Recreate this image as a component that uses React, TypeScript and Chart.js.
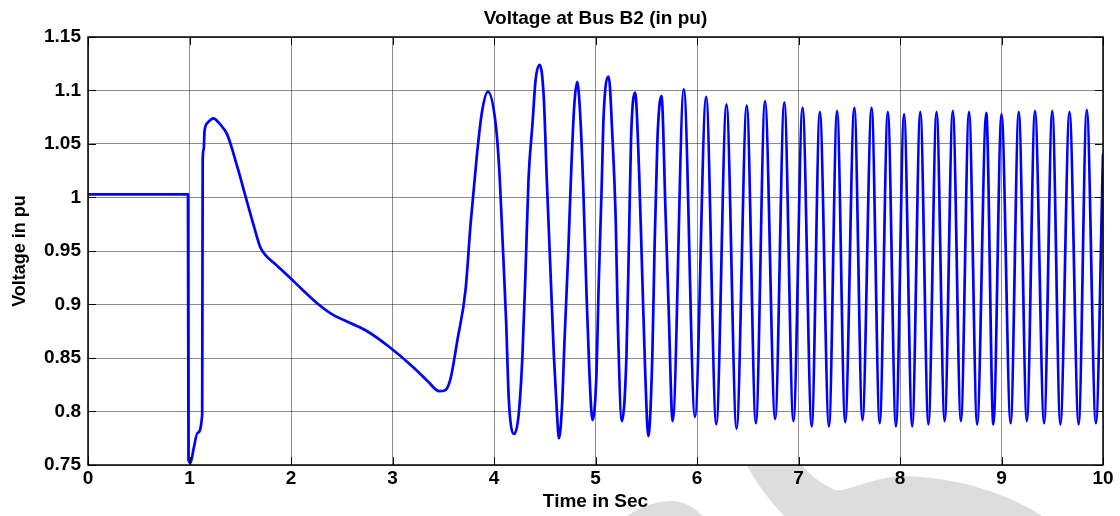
import React, { useEffect, useRef } from "react";
import { Chart, registerables } from "chart.js";

Chart.register(...registerables);

// ---- data ----
const timeSec = [
  0, 0.985, 0.99, 1.01, 1.04, 1.08, 1.125, 1.13, 1.14, 1.148, 1.18, 1.233, 1.305, 1.371,
  1.47, 1.552, 1.635, 1.7, 1.76, 1.83, 1.99, 2.1, 2.26, 2.42, 2.6, 2.75, 2.96, 3.21,
  3.35, 3.46, 3.52, 3.57, 3.64, 3.72, 3.77, 3.83, 3.88, 3.94,
  4.015, 4.05, 4.09, 4.12, 4.146, 4.2,
  4.245, 4.28, 4.31, 4.34, 4.38, 4.41, 4.45,
  4.49, 4.52, 4.56, 4.59, 4.62, 4.64,
  4.67, 4.695, 4.73, 4.76, 4.79, 4.82,
  4.85, 4.88, 4.91, 4.94, 4.97,
  5.01, 5.03, 5.06, 5.08, 5.13,
  5.165, 5.2, 5.22, 5.26,
  5.305, 5.33, 5.35, 5.39,
  5.43, 5.46, 5.49, 5.52,
  5.56, 5.58, 5.61, 5.65,
  5.69, 5.72, 5.76,
  5.87, 5.98, 6.09, 6.19, 6.29, 6.39, 6.49, 6.58, 6.67, 6.77, 6.86, 6.95,
  7.04, 7.13, 7.21, 7.3, 7.38, 7.46, 7.55, 7.63, 7.72, 7.8, 7.88, 7.96,
  8.04, 8.12, 8.2, 8.28, 8.36, 8.44, 8.52, 8.6, 8.68, 8.76, 8.85, 8.92,
  9.0, 9.09, 9.17, 9.25, 9.33, 9.42, 9.5, 9.58, 9.67, 9.76, 9.84, 9.93, 10.0,
];

const voltagePu = [
  1.003, 1.003, 0.755, 0.752, 0.765, 0.78, 0.797, 1.035, 1.045, 1.062, 1.07, 1.074, 1.068, 1.059,
  1.029, 1.001, 0.973, 0.953, 0.945, 0.939, 0.925, 0.915, 0.901, 0.89, 0.882, 0.875, 0.861, 0.841,
  0.828, 0.819, 0.82, 0.83, 0.867, 0.914, 0.976, 1.038, 1.079, 1.099,
  1.07, 1.029, 0.948, 0.883, 0.811, 0.779,
  0.799, 0.852, 0.929, 1.017, 1.07, 1.11, 1.124,
  1.094, 1.017, 0.923, 0.852, 0.799, 0.775,
  0.805, 0.867, 0.945, 1.023, 1.085, 1.108,
  1.076, 1.007, 0.914, 0.836, 0.792,
  0.836, 0.914, 1.007, 1.076, 1.113,
  1.06, 0.976, 0.883, 0.791,
  0.852, 0.961, 1.054, 1.098,
  1.023, 0.929, 0.836, 0.777,
  0.852, 0.945, 1.054, 1.095,
  0.986, 0.898, 0.791,
  1.101, 0.795, 1.094, 0.788, 1.087, 0.784, 1.086, 0.789, 1.09, 0.793, 1.089, 0.791,
  1.084, 0.786, 1.08, 0.786, 1.081, 0.79, 1.084, 0.792, 1.084, 0.789, 1.08, 0.786,
  1.078, 0.786, 1.08, 0.788, 1.08, 0.791, 1.081, 0.791, 1.08, 0.788, 1.079, 0.788,
  1.078, 0.789, 1.08, 0.791, 1.081, 0.789, 1.081, 0.788, 1.08, 0.788, 1.082, 0.789, 1.04,
];

const xTickValues = [0, 1, 2, 3, 4, 5, 6, 7, 8, 9, 10];
const yTickValues = [0.75, 0.8, 0.85, 0.9, 0.95, 1, 1.05, 1.1, 1.15];

const chartTitle = "Voltage at Bus B2 (in pu)";
const xAxisTitle = "Time in Sec";
const yAxisTitle = "Voltage in pu";

const FONT = "'Liberation Sans', Arial, Helvetica, sans-serif";

const backgroundPlugin = {
  id: "bgWatermark",
  beforeDraw(chart: any) {
    const { ctx, chartArea } = chart;
    ctx.save();
    ctx.fillStyle = "#ffffff";
    ctx.fillRect(0, 0, chart.width, chart.height);
    // faint watermark swoosh below the axes
    ctx.beginPath();
    ctx.rect(0, chartArea.bottom, chart.width, chart.height - chartArea.bottom);
    ctx.clip();
    ctx.fillStyle = "#dddddd";
    ctx.beginPath();
    ctx.moveTo(744, 460);
    ctx.quadraticCurveTo(760, 492, 788, 520);
    ctx.lineTo(1048, 520);
    ctx.bezierCurveTo(1020, 500, 970, 478, 905, 476);
    ctx.bezierCurveTo(870, 477, 850, 492, 835, 490);
    ctx.quadraticCurveTo(812, 480, 798, 460);
    ctx.closePath();
    ctx.fill();
    ctx.beginPath();
    ctx.moveTo(622, 520);
    ctx.bezierCurveTo(640, 505, 660, 500, 675, 501);
    ctx.bezierCurveTo(688, 503, 698, 510, 706, 520);
    ctx.closePath();
    ctx.fill();
    ctx.restore();
  },
};

const framePlugin = {
  id: "matlabFrame",
  afterDraw(chart: any) {
    const { ctx, chartArea } = chart;
    const { left, right, top, bottom } = chartArea;
    const xs = chart.scales.x;
    const ys = chart.scales.y;
    ctx.save();
    ctx.strokeStyle = "#000000";
    ctx.lineWidth = 1;
    const tl = 8;
    ctx.beginPath();
    for (const v of xTickValues) {
      const px = Math.round(xs.getPixelForValue(v)) + 0.5;
      ctx.moveTo(px, bottom);
      ctx.lineTo(px, bottom - tl);
      ctx.moveTo(px, top);
      ctx.lineTo(px, top + tl);
    }
    for (const v of yTickValues) {
      const py = Math.round(ys.getPixelForValue(v)) + 0.5;
      ctx.moveTo(left, py);
      ctx.lineTo(left + tl, py);
      ctx.moveTo(right, py);
      ctx.lineTo(right - tl, py);
    }
    ctx.stroke();
    ctx.lineWidth = 1.5;
    ctx.strokeRect(left, top, right - left, bottom - top);
    ctx.restore();
  },
};

export default function App() {
  const canvasRef = useRef<HTMLCanvasElement | null>(null);

  useEffect(() => {
    const canvas = canvasRef.current;
    if (!canvas) return;
    const points = timeSec.map((t, i) => ({ x: t, y: voltagePu[i] }));
    const chart = new Chart(canvas, {
      type: "line",
      data: {
        datasets: [
          {
            label: "Voltage",
            data: points,
            borderColor: "#0000ff",
            borderWidth: 2.7,
            pointRadius: 0,
            cubicInterpolationMode: "monotone",
            fill: false,
            borderJoinStyle: "round",
            borderCapStyle: "round",
            xAxisID: "x",
            yAxisID: "y",
          },
        ],
      },
      options: {
        animation: false,
        responsive: false,
        devicePixelRatio: 1,
        layout: { padding: { left: 0, right: 17, top: 0, bottom: 0 } },
        plugins: {
          legend: { display: false },
          tooltip: { enabled: false },
          title: { display: false },
        },
        scales: {
          xTop: {
            type: "linear",
            position: "top",
            min: 0,
            max: 10,
            afterFit: (scale: any) => {
              scale.height = 37;
            },
            ticks: { display: false },
            grid: { display: false, drawTicks: false },
            border: { display: false },
            title: {
              display: true,
              text: chartTitle,
              color: "#000000",
              font: { family: FONT, size: 19, weight: "bold" },
              padding: { top: 7, bottom: 0 },
            },
          },
          x: {
            type: "linear",
            position: "bottom",
            min: 0,
            max: 10,
            afterBuildTicks: (scale: any) => {
              scale.ticks = xTickValues.map((v) => ({ value: v }));
            },
            afterFit: (scale: any) => {
              scale.height = 51;
            },
            ticks: {
              color: "#000000",
              font: { family: FONT, size: 19, weight: "bold" },
              padding: 2,
              maxRotation: 0,
              autoSkip: false,
              callback: (v: any) => String(Number(Number(v).toFixed(2))),
            },
            grid: { color: "rgba(0,0,0,0.45)", lineWidth: 1, drawTicks: false },
            border: { display: false },
            title: {
              display: true,
              text: xAxisTitle,
              color: "#000000",
              font: { family: FONT, size: 19, weight: "bold" },
              padding: { top: 0, bottom: 3 },
            },
          },
          y: {
            type: "linear",
            min: 0.75,
            max: 1.15,
            afterBuildTicks: (scale: any) => {
              scale.ticks = yTickValues.map((v) => ({ value: v }));
            },
            afterFit: (scale: any) => {
              scale.width = 88;
            },
            ticks: {
              color: "#000000",
              font: { family: FONT, size: 19, weight: "bold" },
              padding: 7,
              autoSkip: false,
              callback: (v: any) => String(Number(Number(v).toFixed(2))),
            },
            grid: { color: "rgba(0,0,0,0.45)", lineWidth: 1, drawTicks: false },
            border: { display: false },
            title: {
              display: true,
              text: yAxisTitle,
              color: "#000000",
              font: { family: FONT, size: 18, weight: "bold" },
              padding: { top: 9, bottom: 0 },
            },
          },
        },
      },
      plugins: [backgroundPlugin, framePlugin],
    } as any);
    return () => chart.destroy();
  }, []);

  return (
    <div style={{ position: "fixed", left: 0, top: 0, width: 1120, height: 516, background: "#ffffff" }}>
      <canvas ref={canvasRef} width={1120} height={516} style={{ display: "block", width: 1120, height: 516 }} />
    </div>
  );
}
